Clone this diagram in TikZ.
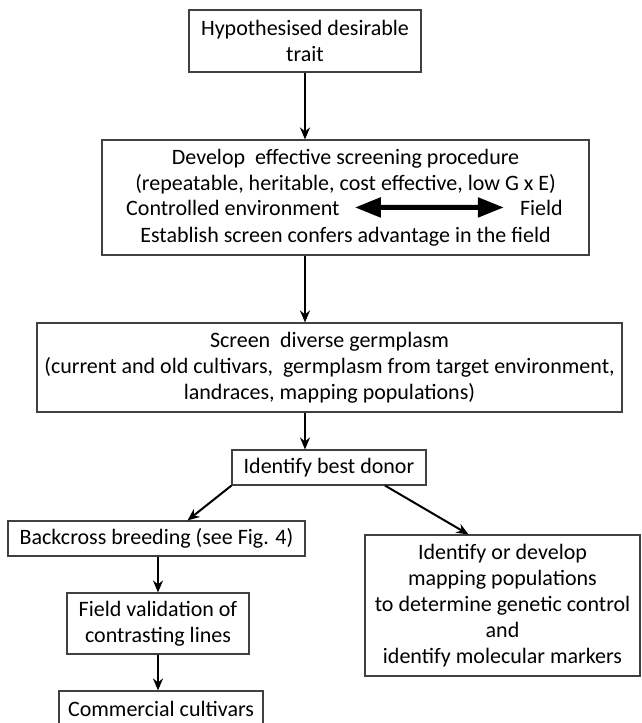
\documentclass[tikz,border=0pt]{standalone}
\usepackage{fontspec}
\setmainfont{Carlito}
\usetikzlibrary{arrows.meta}

\begin{document}
\begin{tikzpicture}[x=1pt,y=1pt,
  box/.style={draw=black!75,line width=1.1pt,inner sep=0pt,align=center,font=\fontsize{22}{26}\selectfont},
  word/.style={inner sep=0pt,font=\fontsize{22}{26}\selectfont},
  link/.style={line width=2pt,-{Stealth[length=12pt,width=10pt]}},
  both/.style={line width=5pt,{Triangle[length=26pt,width=19pt]}-{Triangle[length=26pt,width=19pt]}}]
  \useasboundingbox (0,0) rectangle (641,-723);
  \node[box,minimum width=232pt,minimum height=62pt](trait) at (305,-41) {Hypothesised desirable\\trait};
  \node[box,minimum width=487pt,minimum height=115pt](develop) at (345.5,-197.5) {Develop\ \ effective screening procedure\\(repeatable, heritable, cost effective, low G x E)\\[26pt]Establish screen confers advantage in the field};
  \node[word,anchor=base west](ctrl) at (126,-215) {Controlled environment};
  \node[word,anchor=base east](field) at (563,-215) {Field};
  \node[box,minimum width=585pt,minimum height=89pt](screen) at (329.5,-367.5) {Screen\ \ diverse germplasm\\(current and old cultivars,\ \ germplasm from target environment,\\landraces, mapping populations)};
  \node[box,minimum width=194pt,minimum height=35pt](donor) at (329,-467.5) {Identify best donor};
  \node[box,minimum width=297pt,minimum height=35pt](backcross) at (156.5,-538.5) {Backcross breeding (see Fig. 4)};
  \node[box,minimum width=182pt,minimum height=61pt](fieldval) at (158,-623.5) {Field validation of\\contrasting lines};
  \node[box,minimum width=204pt,minimum height=35pt](commercial) at (161,-708.5) {Commercial cultivars};
  \node[box,minimum width=275pt,minimum height=141pt](mapping) at (502.5,-605.5) {Identify or develop\\mapping populations\\to determine genetic control\\and\\identify molecular markers};
  \draw[link] (trait) -- (trait |- develop.north);
  \draw[link] (develop.south -| trait) -- (screen.north -| trait);
  \draw[link] (screen.south -| trait) -- (donor.north -| trait);
  \draw[link] (donor.south west) -- ([xshift=31pt]backcross.north);
  \draw[link] ([xshift=56pt]donor.south) -- ([xshift=-34pt]mapping.north);
  \draw[link] (backcross.south -| fieldval) -- (fieldval);
  \draw[link] (fieldval) -- (fieldval |- commercial.north);
  \draw[both,shorten <=15pt,shorten >=16pt] (ctrl) -- (field);
\end{tikzpicture}
\end{document}
